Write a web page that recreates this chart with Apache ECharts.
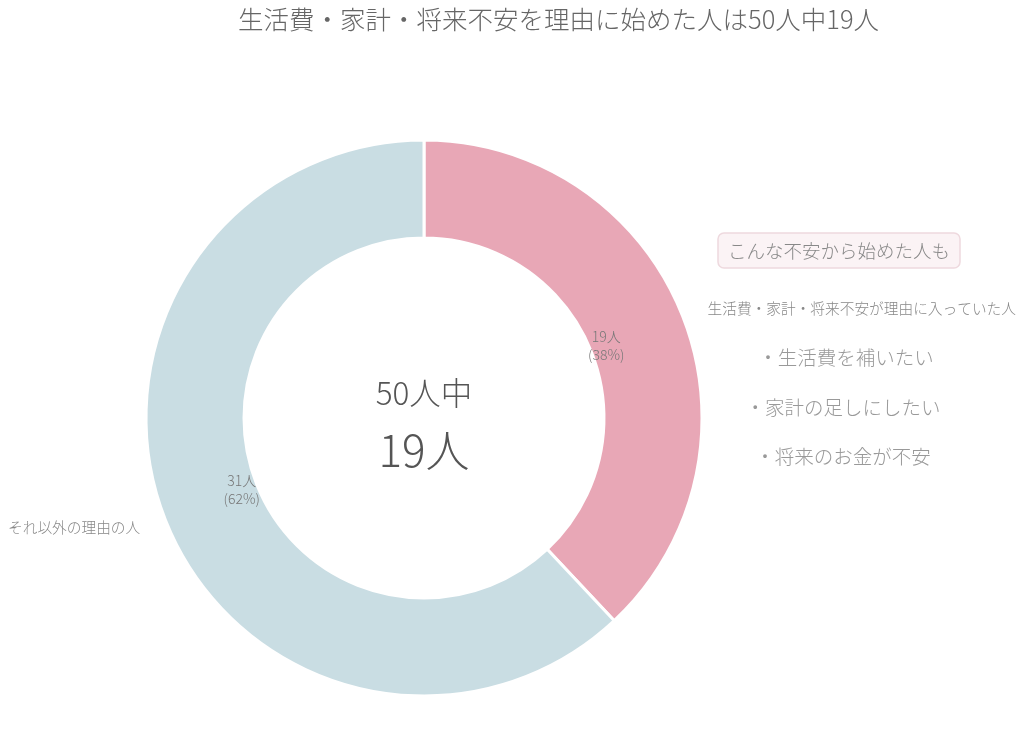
<!DOCTYPE html>
<html>
<head>
<meta charset="utf-8">
<script src="https://cdn.jsdelivr.net/npm/echarts@6/dist/echarts.min.js"></script>
<style>
html,body{margin:0;padding:0;background:#fff;}
#chart{width:1024px;height:730px;}
</style>
</head>
<body>
<div id="chart"></div>
<script>
var categories = ['生活費・家計・将来不安が理由に入っていた人', 'それ以外の理由の人'];
var values = [19, 31];
var colors = ['#e8a7b6', '#c9dde3'];
var total = 50;
var bullets = ['・生活費を補いたい', '・家計の足しにしたい', '・将来のお金が不安'];
var FONT = '"Noto Sans CJK JP", "Noto Sans", sans-serif';

var data = categories.map(function (c, i) {
  return { name: c, value: values[i], itemStyle: { color: colors[i] } };
});

var chart = echarts.init(document.getElementById('chart'));
var option = {
  backgroundColor: '#fff',
  title: {
    text: '生活費・家計・将来不安を理由に始めた人は' + total + '人中' + values[0] + '人',
    left: 233, top: 2,
    textStyle: { fontFamily: FONT, fontSize: 25.5, fontWeight: 300, color: '#666' }
  },
  series: [
    {
      type: 'pie',
      center: [424, 418],
      radius: [180, 278],
      startAngle: 90,
      clockwise: true,
      itemStyle: { borderColor: '#fff', borderWidth: 3 },
      label: {
        show: true, position: 'outside', alignTo: 'edge', edgeDistance: 8,
        fontFamily: FONT, fontSize: 14.7, color: '#888', fontWeight: 300,
        formatter: '{b}'
      },
      labelLine: { show: false, length: 20, length2: 0 },
      emphasis: { disabled: true },
      data: data
    },
    {
      type: 'pie',
      center: [424, 418],
      radius: [180, 206],
      startAngle: 90,
      clockwise: true,
      silent: true,
      itemStyle: { color: 'rgba(0,0,0,0)' },
      label: {
        show: true, position: 'inside',
        fontFamily: FONT, fontSize: 14, color: '#777', lineHeight: 18, fontWeight: 300,
        formatter: function (p) { return p.value + '人\n(' + Math.round(p.percent) + '%)'; }
      },
      labelLine: { show: false },
      emphasis: { disabled: true },
      data: categories.map(function (c, i) { return { name: c, value: values[i] }; })
    }
  ],
  graphic: [
    { type: 'text', x: 424, y: 393, style: { text: total + '人中', fontFamily: FONT, fontSize: 31.5, fontWeight: 300, fill: '#555', align: 'center', verticalAlign: 'middle' } },
    { type: 'text', x: 424, y: 450, style: { text: values[0] + '人', fontFamily: FONT, fontSize: 44, fontWeight: 300, fill: '#555', align: 'center', verticalAlign: 'middle' } },
    { type: 'rect', shape: { x: 718, y: 233, width: 242, height: 35, r: 6 }, style: { fill: '#fbf3f5', stroke: '#eed9de', lineWidth: 1.5 } },
    { type: 'text', x: 839, y: 251, style: { text: 'こんな不安から始めた人も', fontFamily: FONT, fontSize: 18.5, fontWeight: 300, fill: '#888', align: 'center', verticalAlign: 'middle' } },
    { type: 'text', x: 846, y: 358, style: { text: bullets[0], fontFamily: FONT, fontSize: 19.5, fontWeight: 300, fill: '#999', align: 'center', verticalAlign: 'middle' } },
    { type: 'text', x: 843, y: 408, style: { text: bullets[1], fontFamily: FONT, fontSize: 19.5, fontWeight: 300, fill: '#999', align: 'center', verticalAlign: 'middle' } },
    { type: 'text', x: 843, y: 457, style: { text: bullets[2], fontFamily: FONT, fontSize: 19.5, fontWeight: 300, fill: '#999', align: 'center', verticalAlign: 'middle' } }
  ]
};
chart.setOption(option);
</script>
</body>
</html>
